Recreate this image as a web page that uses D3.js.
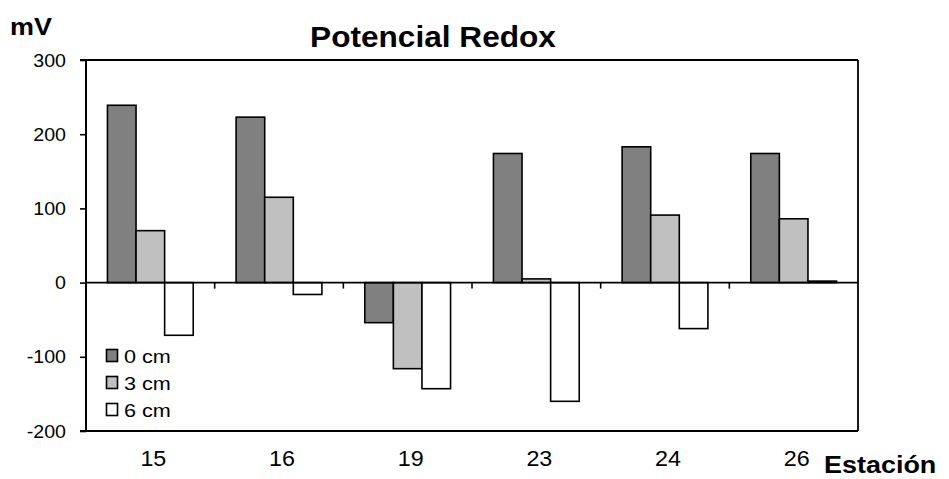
<!DOCTYPE html>
<html>
<head>
<meta charset="utf-8">
<script src="https://cdn.jsdelivr.net/npm/d3@7"></script>
<style>
  html, body { margin: 0; padding: 0; background: #fff; }
  svg { display: block; font-family: "Liberation Sans", Arial, sans-serif; }
</style>
</head>
<body>
<svg id="chart" width="949" height="479"></svg>
<script>
// Redox potential (mV) per station, at three sediment depths
const stations = ["15", "16", "19", "23", "24", "26"];
const seriesNames = ["0 cm", "3 cm", "6 cm"];
const depth0 = [239, 223, -54, 174, 183, 174];
const depth3 = [70, 115, -116, 5, 91, 86];
const depth6 = [-71, -16, -143, -160, -62, 2];
const yTicks = [300, 200, 100, 0, -100, -200];
const seriesColors = ["#808080", "#c0c0c0", "#ffffff"];

(function () {
  const seriesValues = [depth0, depth3, depth6];

  const svg = d3.select("#chart");
  const plotLeft = 86, plotRight = 858, plotTop = 60, plotBottom = 431;

  const x = d3.scaleBand().domain(stations).range([plotLeft, plotRight]).padding(0);
  const bw = x.bandwidth();
  const gap = bw * 0.75 / 4.5;
  const xs = d3.scaleBand().domain(seriesNames).range([gap, bw - gap]).padding(0);
  const y = d3.scaleLinear().domain([-200, 300]).range([plotBottom, plotTop]);

  // text drawn slightly wider than the font's own proportions
  function label(parent, tx, ty, str, size, opts = {}) {
    const sx = opts.stretch || 1.08;
    const t = parent.append("text")
      .attr("transform", `translate(${tx},${ty}) scale(${sx},1)`)
      .attr("font-size", size)
      .attr("fill", "#000")
      .attr("text-anchor", opts.anchor || "start")
      .text(str);
    if (opts.bold) t.attr("font-weight", "bold");
    return t;
  }

  // bars
  seriesNames.forEach((name, si) => {
    svg.append("g")
      .selectAll("rect")
      .data(stations.map((s, i) => ({ s, v: seriesValues[si][i] })))
      .join("rect")
      .attr("x", d => x(d.s) + xs(name))
      .attr("width", xs.bandwidth())
      .attr("y", d => y(Math.max(0, d.v)))
      .attr("height", d => Math.abs(y(d.v) - y(0)))
      .attr("fill", seriesColors[si])
      .attr("stroke", "#000")
      .attr("stroke-width", 1.6);
  });

  // plot frame
  const frame = svg.append("g").attr("stroke", "#000").attr("fill", "none");
  frame.append("line").attr("x1", plotLeft).attr("x2", plotRight).attr("y1", plotTop).attr("y2", plotTop).attr("stroke-width", 1.8);
  frame.append("line").attr("x1", plotRight).attr("x2", plotRight).attr("y1", plotTop).attr("y2", plotBottom).attr("stroke-width", 1.8);
  frame.append("line").attr("x1", plotLeft).attr("x2", plotRight).attr("y1", plotBottom).attr("y2", plotBottom).attr("stroke-width", 1.8);

  // y axis: ticks from the axis generator, labels drawn with hyphen minus
  const yAxis = d3.axisLeft(y).tickValues(yTicks).tickSize(6).tickFormat("");
  const yg = svg.append("g").attr("transform", `translate(${plotLeft},0)`).call(yAxis);
  yg.select(".domain").attr("stroke", "#000").attr("stroke-width", 2).attr("d", `M-6,${plotTop}H0V${plotBottom}H-6`);
  yg.selectAll(".tick line").attr("stroke", "#000").attr("stroke-width", 1.6);
  yg.selectAll(".tick text").remove();
  const ylab = svg.append("g");
  yTicks.forEach(v => {
    label(ylab, 66, y(v) + 6.5, String(v), 18.5, { anchor: "end", stretch: 1.06 });
  });

  // zero line with category separator ticks
  const zeroAxis = d3.axisBottom(x).tickSize(0).tickFormat("");
  const zg = svg.append("g").attr("transform", `translate(0,${y(0)})`).call(zeroAxis);
  zg.select(".domain").attr("stroke", "#000").attr("stroke-width", 1.8).attr("d", `M${plotLeft},0H${plotRight}`);
  zg.selectAll(".tick").remove();
  svg.append("g")
    .selectAll("line")
    .data(stations.slice(1))
    .join("line")
    .attr("x1", d => x(d)).attr("x2", d => x(d))
    .attr("y1", y(0)).attr("y2", y(0) + 6)
    .attr("stroke", "#000").attr("stroke-width", 1.6);

  // category labels
  const xlab = svg.append("g");
  stations.forEach(s => {
    label(xlab, x(s) + bw / 2 + 3, 466, s, 22, { anchor: "middle", stretch: 1.06 });
  });

  // title and axis names
  label(svg, 433, 47, "Potencial Redox", 29, { anchor: "middle", bold: true, stretch: 1.09 });
  label(svg, 10, 35, "mV", 24.5, { bold: true, stretch: 1.1 });
  label(svg, 824, 473, "Estación", 24.5, { bold: true, stretch: 1.1 });

  // legend
  const legend = svg.append("g").attr("transform", "translate(106,349)");
  seriesNames.forEach((name, i) => {
    const g = legend.append("g").attr("transform", `translate(0,${i * 27})`);
    g.append("rect").attr("x", 0.5).attr("y", 0.5).attr("width", 11).attr("height", 12)
      .attr("fill", seriesColors[i]).attr("stroke", "#000").attr("stroke-width", 1.6);
    label(g, 18, 14, name, 18.5, { stretch: 1.17 });
  });
})();
</script>
</body>
</html>
